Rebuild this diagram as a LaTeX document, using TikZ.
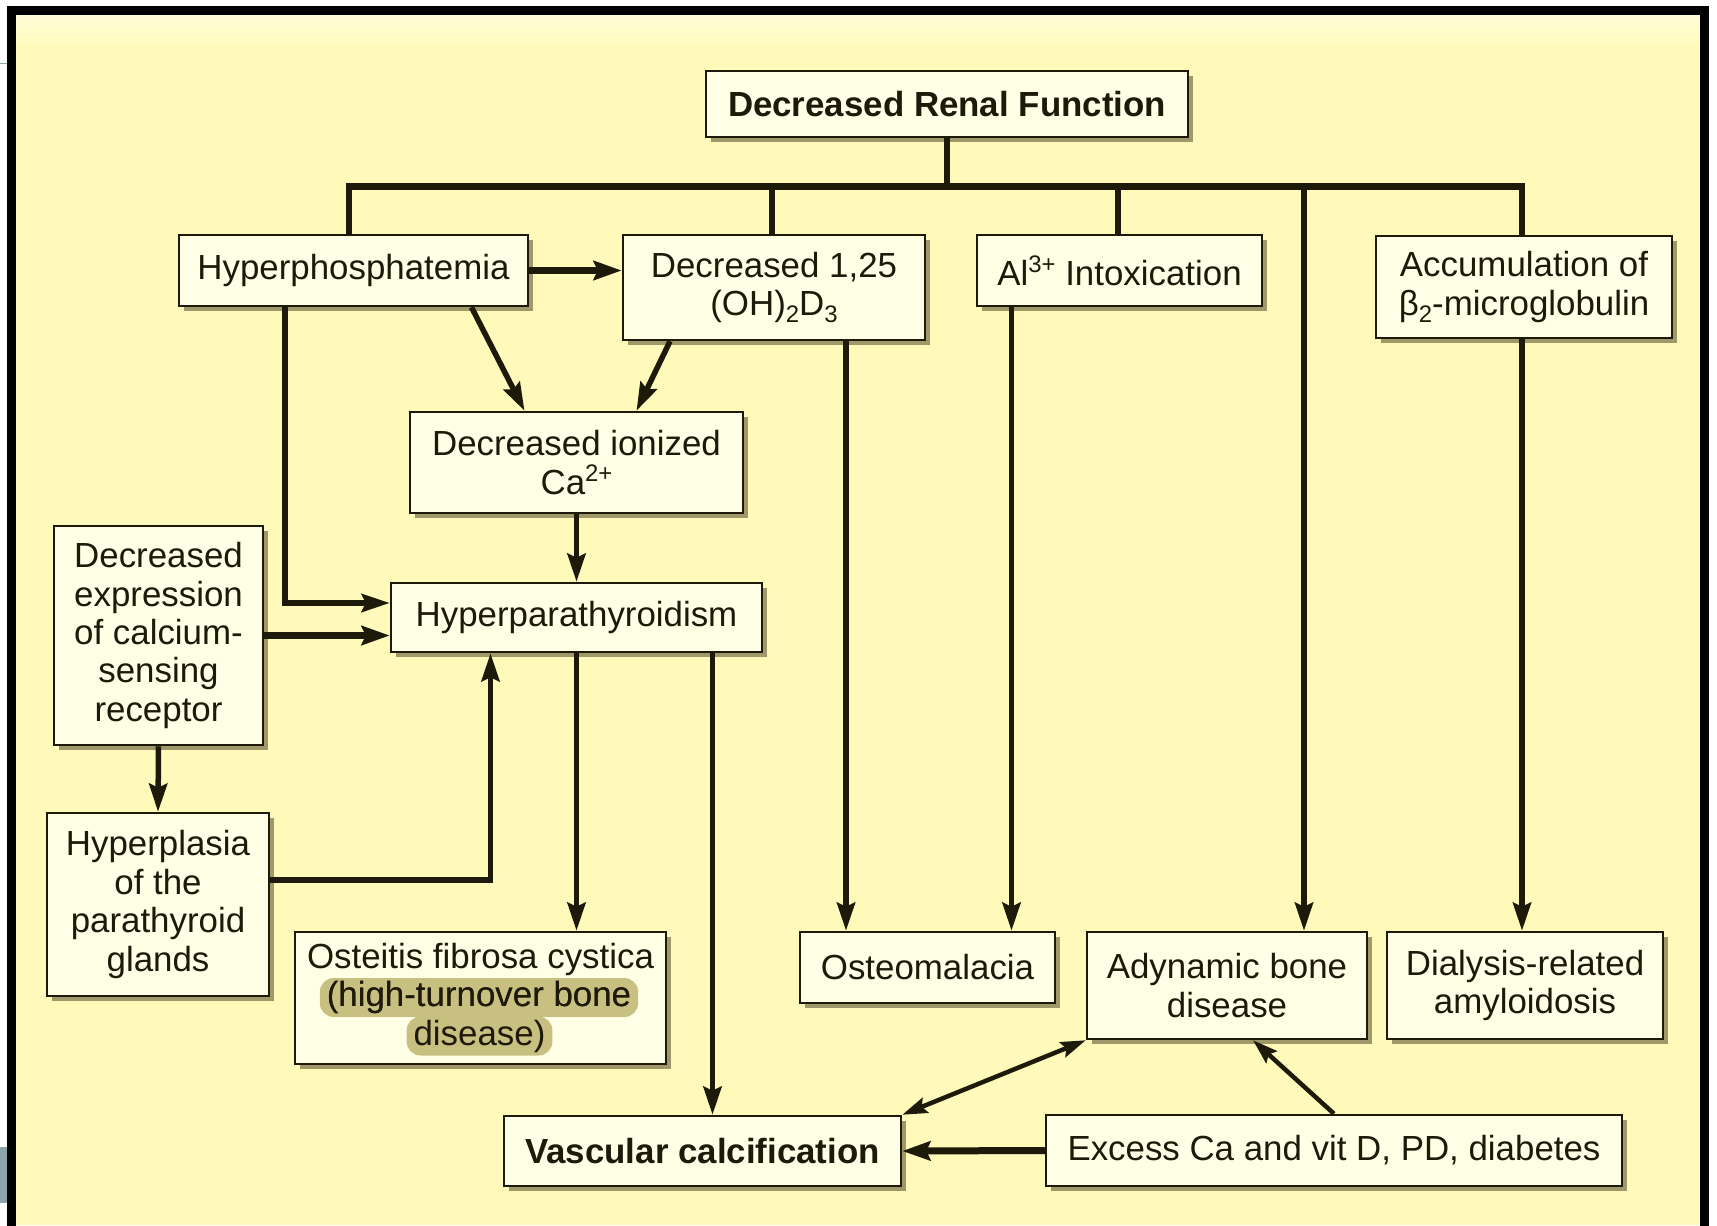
\documentclass[tikz,border=0pt]{standalone}
\usepackage{fontspec}
\setmainfont{Liberation Sans}
\usetikzlibrary{arrows.meta,shadows,calc}
\definecolor{bgy}{RGB}{255,250,186}
\definecolor{bgl}{RGB}{255,253,218}
\definecolor{boxf}{RGB}{255,255,230}
\definecolor{ink}{RGB}{30,26,10}
\definecolor{shad}{RGB}{160,152,105}
\definecolor{hlc}{RGB}{200,192,128}
\definecolor{tabc}{RGB}{140,165,170}
\newcommand\mysup[1]{\raisebox{13bp}{\fontsize{24}{24}\selectfont #1}}
\newcommand\mysub[1]{\raisebox{-7bp}{\fontsize{24}{24}\selectfont #1}}
\begin{document}
\begin{tikzpicture}[x=1bp,y=-1bp,
  txt/.style={font=\fontsize{35}{38.5}\selectfont, text=ink},
  box/.style={txt, draw=ink, line width=2.5bp, fill=boxf, inner sep=0pt, align=center,
    drop shadow={shadow xshift=5bp, shadow yshift=-5bp, fill=shad, opacity=1}},
  conn/.style={draw=ink, line width=5.5bp},
  busline/.style={draw=ink, line width=7bp},
  arr/.style={conn, -{Stealth[length=28bp,width=18bp,inset=4bp]}},
  tharr/.style={draw=ink, line width=7bp, -{Stealth[length=28bp,width=19bp,inset=4bp]}},
  thinarr/.style={draw=ink, line width=4.5bp, -{Stealth[length=25bp,width=16bp,inset=4bp]}},
  dblarr/.style={draw=ink, line width=4.5bp, {Stealth[length=25bp,width=16bp,inset=4bp]}-{Stealth[length=25bp,width=16bp,inset=4bp]}},
  hl/.style={txt, fill=hlc, rounded corners=14bp, inner xsep=7bp, inner ysep=1.5bp, text height=27bp, text depth=9bp},
  plain/.style={txt, inner xsep=0pt, inner ysep=1.5bp, text height=27bp, text depth=9bp}
]
\useasboundingbox (0,0) rectangle (1717,1225);
% background and frame
\fill[white] (0,0) rectangle (1717,1225);
\fill[bgy] (11,10) rectangle (1704,1225);
\shade[top color=bgl, bottom color=bgy] (15,14) rectangle (1700,48);
\draw[black, line width=9bp] (11,1235) -- (11,10) -- (1704,10) -- (1704,1235);
\fill[tabc] (0,1147) rectangle (6.5,1203);
\draw[tabc, line width=1.5bp] (0,63.5) -- (6.5,63.5);

% nodes
\node[box, font=\fontsize{35}{38.5}\selectfont\bfseries, minimum width=482bp, minimum height=66bp] (top) at (947,104) {Decreased Renal Function};
\node[box, minimum width=349bp, minimum height=71bp] (hyp) at (353.5,270.5) {Hyperphosphatemia};
\node[box, minimum width=302bp, minimum height=105bp] (d125) at (774,287.5) {\raisebox{-3bp}{Decreased 1,25}\\\raisebox{-3bp}{(OH)\mysub{2}D\mysub{3}}};
\node[box, minimum width=285bp, minimum height=71bp] (al) at (1119.5,270.5) {Al\mysup{3+} Intoxication};
\node[box, minimum width=296bp, minimum height=102bp] (acc) at (1524,287) {\raisebox{-3bp}{Accumulation of}\\\raisebox{-3bp}{β\mysub{2}-microglobulin}};
\node[box, minimum width=333bp, minimum height=101bp] (dic) at (576.5,462.5) {Decreased ionized\\Ca\mysup{2+}};
\node[box, minimum width=371bp, minimum height=69bp] (hpt) at (576.5,617.5) {Hyperparathyroidism};
\node[box, minimum width=209bp, minimum height=219bp] (dex) at (158.5,635.5) {Decreased\\expression\\of calcium-\\sensing\\receptor};
\node[box, minimum width=222bp, minimum height=183bp] (hpl) at (158,904.5) {Hyperplasia\\of the\\parathyroid\\glands};
\node[box, minimum width=371bp, minimum height=132bp] (ofc) at (480.5,998) {};
\node[plain] (ofc1) at (480.5,959) {Osteitis fibrosa cystica};
\node[hl] (ofc2) at (479,997.5) {(high-turnover bone};
\node[hl] (ofc3) at (479.5,1036) {disease)};
\node[plain] at (479,997.5) {(high-turnover bone};
\node[box, minimum width=255bp, minimum height=71bp] (om) at (927.5,967.5) {Osteomalacia};
\node[box, minimum width=280bp, minimum height=107bp] (abd) at (1227,985.5) {Adynamic bone\\disease};
\node[box, minimum width=276bp, minimum height=107bp] (dra) at (1525,985.5) {Dialysis-related\\amyloidosis};
\node[box, font=\fontsize{35}{38.5}\selectfont\bfseries, minimum width=397bp, minimum height=70bp] (vc) at (702.5,1151) {Vascular calcification};
\node[box, minimum width=576bp, minimum height=71bp] (ex) at (1334,1150.5) {Excess Ca and vit D, PD, diabetes};

% bus
\coordinate (busL) at (349,186);
\coordinate (busR) at (1522,186);
\coordinate (b2) at (772,186);
\coordinate (b3) at (1118,186);
\coordinate (b4) at (1304,186);
\draw[conn] (top.south) -- (top.south |- busL);
\draw[busline] ([xshift=-2.75bp]busL) -- ([xshift=2.75bp]busR);
\draw[conn] (busL) -- (busL |- hyp.north);
\draw[conn] (b2) -- (b2 |- d125.north);
\draw[conn] (b3) -- (b3 |- al.north);
\draw[conn] (busR) -- (busR |- acc.north);
\draw[arr] (b4) -- (b4 |- abd.north);

% connectors
\draw[tharr] (hyp.east) -- (d125.west |- hyp.east);
\coordinate (hv) at (285,603);
\draw[arr] (hv |- hyp.south) -- (hv) -- (hpt.west |- hv);
\draw[arr] ([xshift=118bp]hyp.south) -- ([xshift=-52bp]dic.north);
\draw[arr] ([xshift=-104bp]d125.south) -- ([xshift=60bp]dic.north);
\draw[arr] ([xshift=72bp]d125.south) -- ([xshift=72bp]d125.south |- om.north);
\draw[arr] ([xshift=-108bp]al.south) -- ([xshift=-108bp]al.south |- om.north);
\draw[arr] (busR |- acc.south) -- (busR |- dra.north);
\draw[arr] (dic.south) -- (hpt.north);
\draw[tharr] (dex.east) -- (hpt.west |- dex.east);
\draw[arr] (dex.south) -- (hpl.north);
\draw[arr] ([yshift=24.5bp]hpl.east) -| ([xshift=-86bp]hpt.south);
\draw[arr] (hpt.south) -- (hpt.south |- ofc.north);
\draw[arr] ([xshift=136bp]hpt.south) -- ([xshift=136bp]hpt.south |- vc.north);
\draw[dblarr] (abd.south west) -- (vc.north east);
\draw[thinarr] (ex.north) -- ([xshift=26bp]abd.south);
\draw[tharr] (ex.west) -- (vc.east);
\end{tikzpicture}
\end{document}
